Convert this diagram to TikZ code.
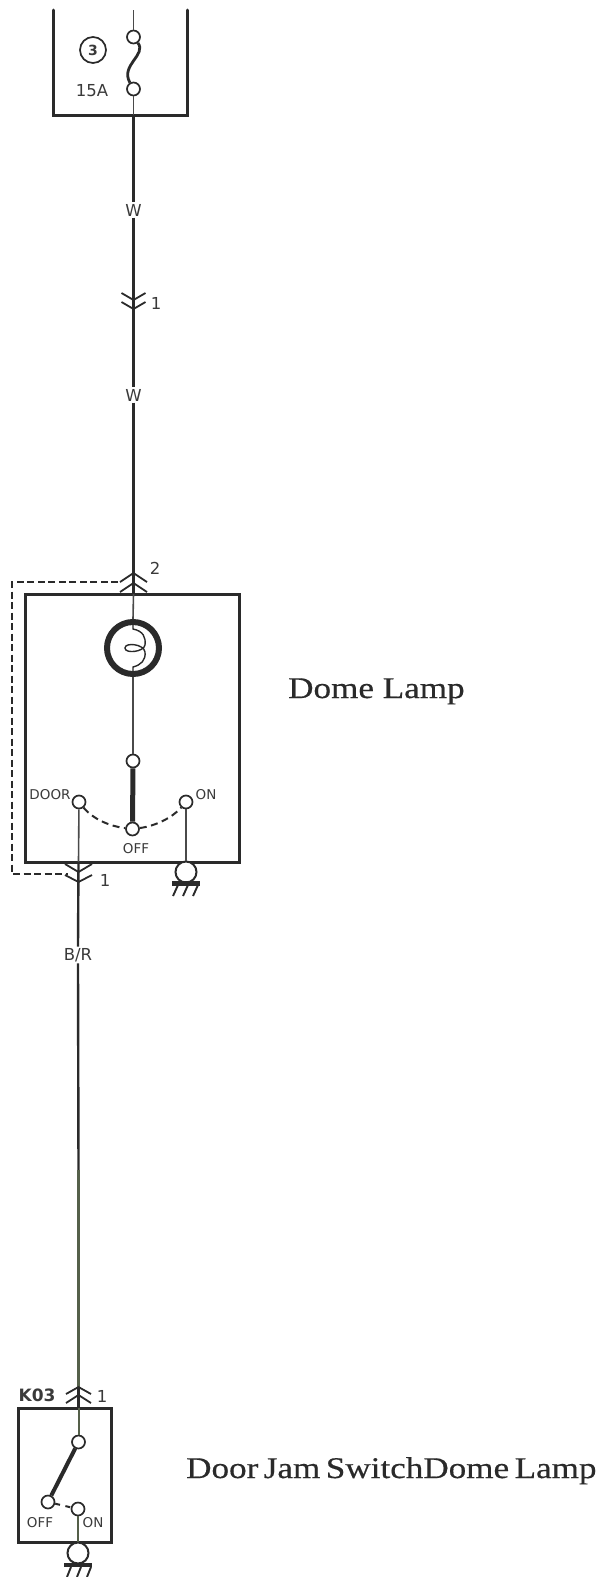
\documentclass[tikz,border=0pt]{standalone}
\usepackage{fontspec}
\setmainfont{Liberation Serif}
\newfontfamily\wirefont{DejaVu Sans}
\newfontfamily\capfont[FakeStretch=1.17,FakeBold=0.4]{Liberation Serif}
\definecolor{ink}{HTML}{2A2A2A}
\definecolor{greenwire}{HTML}{55604A}
\definecolor{labelink}{HTML}{3A3A3A}
\tikzset{
  x=1pt,y=-1pt,
  frame/.style={draw=ink,line width=3pt,line cap=round},
  wire/.style={draw=ink,line width=2.4pt},
  thinwire/.style={draw=ink!85,line width=1.6pt},
  gwire/.style={draw=greenwire,line width=2pt},
  contact/.style={circle,draw=ink,line width=1.7pt,fill=white,minimum size=13pt,inner sep=0pt},
  blade/.style={draw=ink,line width=5pt},
  dashline/.style={draw=ink,line width=2pt,dash pattern=on 7pt off 3.5pt},
  chev/.style={draw=ink,line width=1.8pt},
  wlabel/.style={font=\wirefont\fontsize{16.5}{17}\selectfont,text=labelink,inner sep=1.5pt},
  small/.style={font=\wirefont\fontsize{13.5}{14}\selectfont,text=labelink,inner sep=0pt},
  caption/.style={font=\capfont\fontsize{30}{30}\selectfont,text=ink,inner sep=0pt,anchor=base west},
  grnd/.style={circle,draw=ink,line width=2pt,fill=white,minimum size=21pt,inner sep=0pt},
  bar/.style={draw=ink,line width=4.5pt},
  hatch/.style={draw=ink,line width=1.9pt}
}
\begin{document}
\begin{tikzpicture}
\useasboundingbox (0,0) rectangle (604,1577);
% fuse box
\draw[frame] (53,10) -- (53,115.5) -- (187,115.5) -- (187,10);
\node[contact] (f1) at (133.5,37) {};
\node[contact] (f2) at (133.5,89) {};
\coordinate (ftop) at (133.5,10);
\draw[thinwire] (ftop) -- (f1);
\draw[draw=ink,line width=2.8pt] (f1) .. controls (147,55) and (120,65) .. (f2);
\node[circle,draw=ink,line width=1.7pt,minimum size=26pt,inner sep=0pt,font=\wirefont\bfseries\fontsize{14}{14}\selectfont,text=labelink] (three) at (93,50) {3};
\node[wlabel] (amp) at (92,91) {15A};
% wire labels
\node[wlabel] (w1) at (133.5,210) {W};
\node[wlabel] (w2) at (133.5,395) {W};
\coordinate (c1a) at (133.5,300);
\coordinate (c1b) at (133.5,309);
\draw[thinwire] (f2) -- (133.5,115);
\draw[wire] (133.5,115) -- (w1.north);
\draw[wire] (w1.south) -- (w2.north);
% chevrons 1
\draw[chev] (121.5,293) -- (c1a) -- (145.5,293);
\draw[chev] (121.5,302) -- (c1b) -- (145.5,302);
\node[wlabel] (n1) at (156,303) {1};
% dome box
\node[draw=ink,line width=3pt,minimum width=214pt,minimum height=268pt,inner sep=0pt] (dome) at (132,728) {};
\coordinate (c2a) at (133.5,573);
\coordinate (c2b) at (133.5,583);
\draw[wire] (w2.south) -- (c2a) -- (133.5,594);
\draw[chev] (120,582) -- (c2a) -- (147,582);
\draw[chev] (120,592) -- (c2b) -- (147,592);
\node[wlabel] (n2) at (155,568) {2};
% dashed
\coordinate (da) at (118,582);
\coordinate (db) at (12,582);
\coordinate (dc) at (12,874);
\coordinate (dd) at (68,874);
\draw[dashline] (da) -- (db) -- (dc) -- (dd);
% lamp
\node[circle,draw=ink,line width=6pt,minimum size=52pt,inner sep=0pt] (lamp) at (133,648) {};
\coordinate (dtop) at (133.5,594);
\draw[thinwire] (dtop) -- (lamp.north);
\draw[draw=ink,line width=1.4pt] (lamp.north) -- (133,629) .. controls (143,631) and (146,637) .. (145,645) .. controls (144,652) and (125,654) .. (125,648) .. controls (125,642) and (144,644) .. (145,652) .. controls (146,660) and (141,665) .. (133,667) -- (lamp.south);
% switch
\node[contact] (s0) at (133,761) {};
\draw[thinwire] (lamp.south) -- (s0);
\node[contact] (soff) at (132.5,829) {};
\node[contact] (sdoor) at (79,802) {};
\node[contact] (son) at (186,802) {};
\draw[blade] (s0) -- (soff);
\draw[dashline,dash pattern=on 7pt off 4.5pt] (sdoor) .. controls (92,818) and (108,826) .. (soff);
\draw[dashline,dash pattern=on 7pt off 4.5pt] (soff) .. controls (155,826) and (172,818) .. (son);
\node[small] (ldoor) at (50,795) {DOOR};
\node[small] (lon) at (206,795) {ON};
\node[small] (loff) at (136,849) {OFF};
% ground dome
\node[grnd] (g1) at (186,872) {};
\draw[thinwire] (son) -- (g1);
\coordinate (g1a) at (172,883.5);
\coordinate (g1b) at (200,883.5);
\draw[bar] (g1a) -- (g1b);
\draw[hatch] (178,885) -- ++(-5,11);
\draw[hatch] (188,885) -- ++(-5,11);
\draw[hatch] (198,885) -- ++(-5,11);
% door wire
\node[wlabel] (br) at (78,955) {B/R};
\coordinate (dw) at (78.5,862);
\draw[thinwire] (sdoor) -- (dw);
\coordinate (c3a) at (78.5,872);
\coordinate (c3b) at (78.5,882);
\draw[wire] (dw) -- (br.north);
\draw[chev] (65,864) -- (c3a) -- (92,864);
\draw[chev] (65,875) -- (c3b) -- (92,875);
\node[wlabel] (n3) at (105,880) {1};
% K03
\node[draw=ink,line width=3pt,minimum width=93pt,minimum height=134pt,inner sep=0pt] (k) at (64.5,1475) {};
\coordinate (c4a) at (78.5,1387);
\coordinate (c4b) at (78.5,1395);
\coordinate (gs) at (78.5,1170);
\draw[wire] (br.south) -- (gs);
\draw[draw=greenwire,line width=2.3pt] (gs) -- (c4a);
\draw[wire] (c4a) -- (78.5,1408);
\draw[chev] (66,1394) -- (c4a) -- (91,1394);
\draw[chev] (66,1403) -- (c4b) -- (91,1403);
\node[font=\wirefont\bfseries\fontsize{17}{17}\selectfont,text=labelink,inner sep=0pt] (k03) at (37,1395) {K03};
\node[wlabel] (n4) at (102,1396) {1};
\node[contact] (k0) at (78.5,1442) {};
\node[contact] (koff) at (48,1502) {};
\node[contact] (kon) at (78,1509) {};
\draw[gwire] (78.5,1408) -- (k0);
\draw[draw=ink,line width=4pt] (k0) -- (koff);
\draw[dashline,dash pattern=on 5pt off 5.5pt] (koff) -- (kon);
\node[small] (koffl) at (40,1523) {OFF};
\node[small] (konl) at (93,1523) {ON};
\node[grnd] (g2) at (78,1553) {};
\draw[gwire] (kon) -- (g2);
\coordinate (g2a) at (64,1565);
\coordinate (g2b) at (92,1565);
\draw[bar] (g2a) -- (g2b);
\draw[hatch] (71,1567) -- ++(-4,10);
\draw[hatch] (81,1567) -- ++(-4,10);
\draw[hatch] (91,1567) -- ++(-4,10);
% captions
\node[caption] (cap1) at (288,698) {Dome Lamp};
\node[caption] (cap2) at (186,1478) {\spaceskip=5.5pt Door Jam SwitchDome Lamp};
\end{tikzpicture}
\end{document}
